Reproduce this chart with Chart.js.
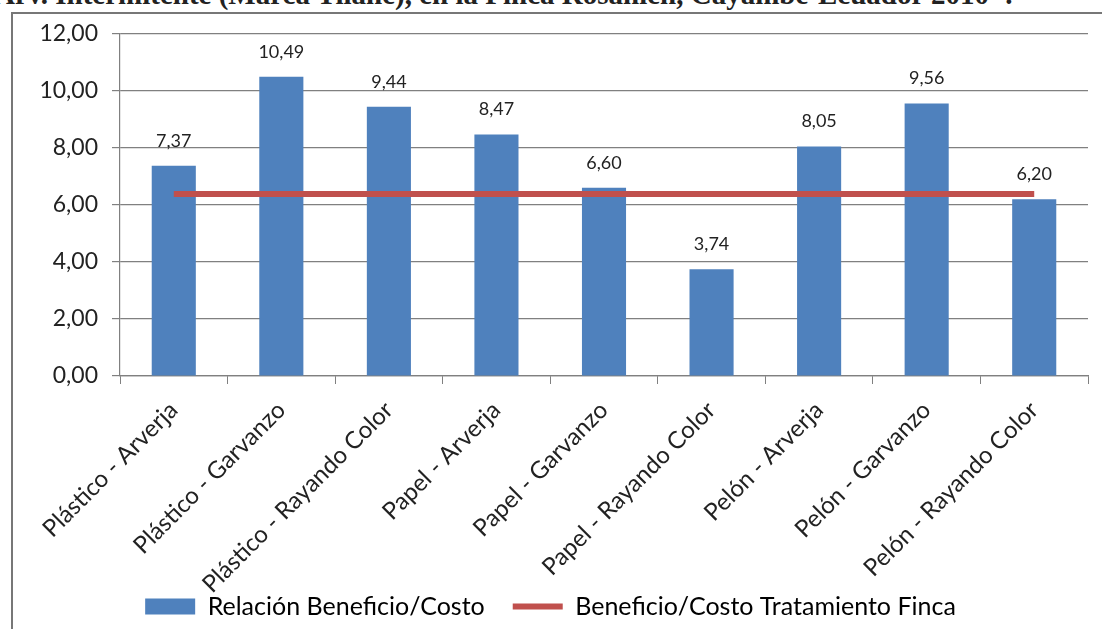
<!DOCTYPE html>
<html>
<head>
<meta charset="utf-8">
<script src="https://cdn.jsdelivr.net/npm/chart.js@4"></script>
<style>
  body { margin: 0; background: #fff; overflow: hidden; width: 1102px; height: 629px; position: relative; }
  #title { position: absolute; left: -6px; top: -22px; font: bold 29px "Liberation Serif", serif; color: #222; white-space: nowrap; }
  #frame { position: absolute; left: 11px; top: 12px; width: 1100px; height: 640px; border: 2px solid #777; }
  #wrap { position: absolute; left: 13px; top: 6px; width: 1089px; height: 650px; }
</style>
</head>
<body>
<div id="title">Arv. Intermitente (Marca Tilane), en la Finca Rosanlen, Cayambe-Ecuador 2010".</div>
<div id="frame"></div>
<div id="wrap"><canvas id="benefit"></canvas></div>
<script>
// tratamientos (material - especie)
const categories = [
  "Plástico - Arverja", "Plástico - Garvanzo", "Plástico - Rayando Color",
  "Papel - Arverja", "Papel - Garvanzo", "Papel - Rayando Color",
  "Pelón - Arverja", "Pelón - Garvanzo", "Pelón - Rayando Color"
];
const ratios = [7.37, 10.49, 9.44, 8.47, 6.60, 3.74, 8.05, 9.56, 6.20];
const fincaRatio = [6.38, 6.38, 6.38, 6.38, 6.38, 6.38, 6.38, 6.38, 6.38];
const yTicks = [0, 2, 4, 6, 8, 10, 12];

const fontName = "Lato, 'Open Sans', sans-serif";
const fmt = v => v.toFixed(2).replace(".", ",");

// numbers on top of the bars
const barLabels = {
  id: "barLabels",
  afterLayout(chart) {
    // let the slanted category names run down past the axis box
    chart.scales.x.bottom = chart.height;
  },
  afterDatasetsDraw(chart) {
    const ctx = chart.ctx;
    const meta = chart.getDatasetMeta(0);
    ctx.save();
    ctx.font = "18px " + fontName;
    ctx.fillStyle = "#222";
    ctx.textAlign = "center";
    ctx.textBaseline = "alphabetic";
    meta.data.forEach((bar, i) => {
      ctx.fillText(fmt(ratios[i]), bar.x, bar.y - 19);
    });
    ctx.restore();
  }
};

new Chart("benefit", {
  type: "bar",
  data: {
    labels: categories,
    datasets: [{
      type: "bar",
      label: "Relación Beneficio/Costo",
      data: ratios,
      backgroundColor: "#4F81BD",
      barPercentage: 0.41,
      categoryPercentage: 1,
      order: 2
    }, {
      type: "line",
      label: "Beneficio/Costo Tratamiento Finca",
      data: fincaRatio,
      borderColor: "#C0504D",
      backgroundColor: "#C0504D",
      borderWidth: 6,
      pointRadius: 0,
      order: 1
    }]
  },
  options: {
    responsive: true,
    maintainAspectRatio: false,
    animation: false,
    layout: { padding: { top: 12, right: 14, left: 0, bottom: 27 } },
    plugins: {
      tooltip: { enabled: false },
      legend: {
        position: "bottom",
        labels: {
          color: "#222",
          font: { family: fontName, size: 25 },
          usePointStyle: true,
          pointStyleWidth: 50,
          boxHeight: 16,
          padding: 28,
          generateLabels(chart) {
            return chart.data.datasets.map((ds, i) => ({
              text: ds.label,
              fillStyle: ds.backgroundColor,
              strokeStyle: i === 0 ? ds.backgroundColor : ds.borderColor,
              lineWidth: i === 0 ? 0 : 6,
              pointStyle: i === 0 ? "rect" : "line",
              datasetIndex: i,
              hidden: false
            }));
          }
        }
      }
    },
    scales: {
      y: {
        min: 0,
        max: 12,
        afterFit(scale) { scale.width = 107; },
        afterBuildTicks(scale) { scale.ticks = yTicks.map(v => ({ value: v })); },
        ticks: {
          color: "#222",
          padding: 14,
          font: { family: fontName, size: 23 },
          callback: v => fmt(v)
        },
        grid: { color: "#808080", lineWidth: 1.2, tickLength: 8 },
        border: { color: "#808080", width: 1.2 }
      },
      x: {
        afterFit(scale) { scale.height = 190; },
        ticks: {
          color: "#222",
          maxRotation: 45,
          minRotation: 45,
          padding: 12,
          font: { family: fontName, size: 24 }
        },
        grid: { offset: true, drawOnChartArea: false, color: "#808080", tickLength: 8 },
        border: { color: "#808080", width: 1.2 }
      }
    }
  },
  plugins: [barLabels]
});
</script>
</body>
</html>
